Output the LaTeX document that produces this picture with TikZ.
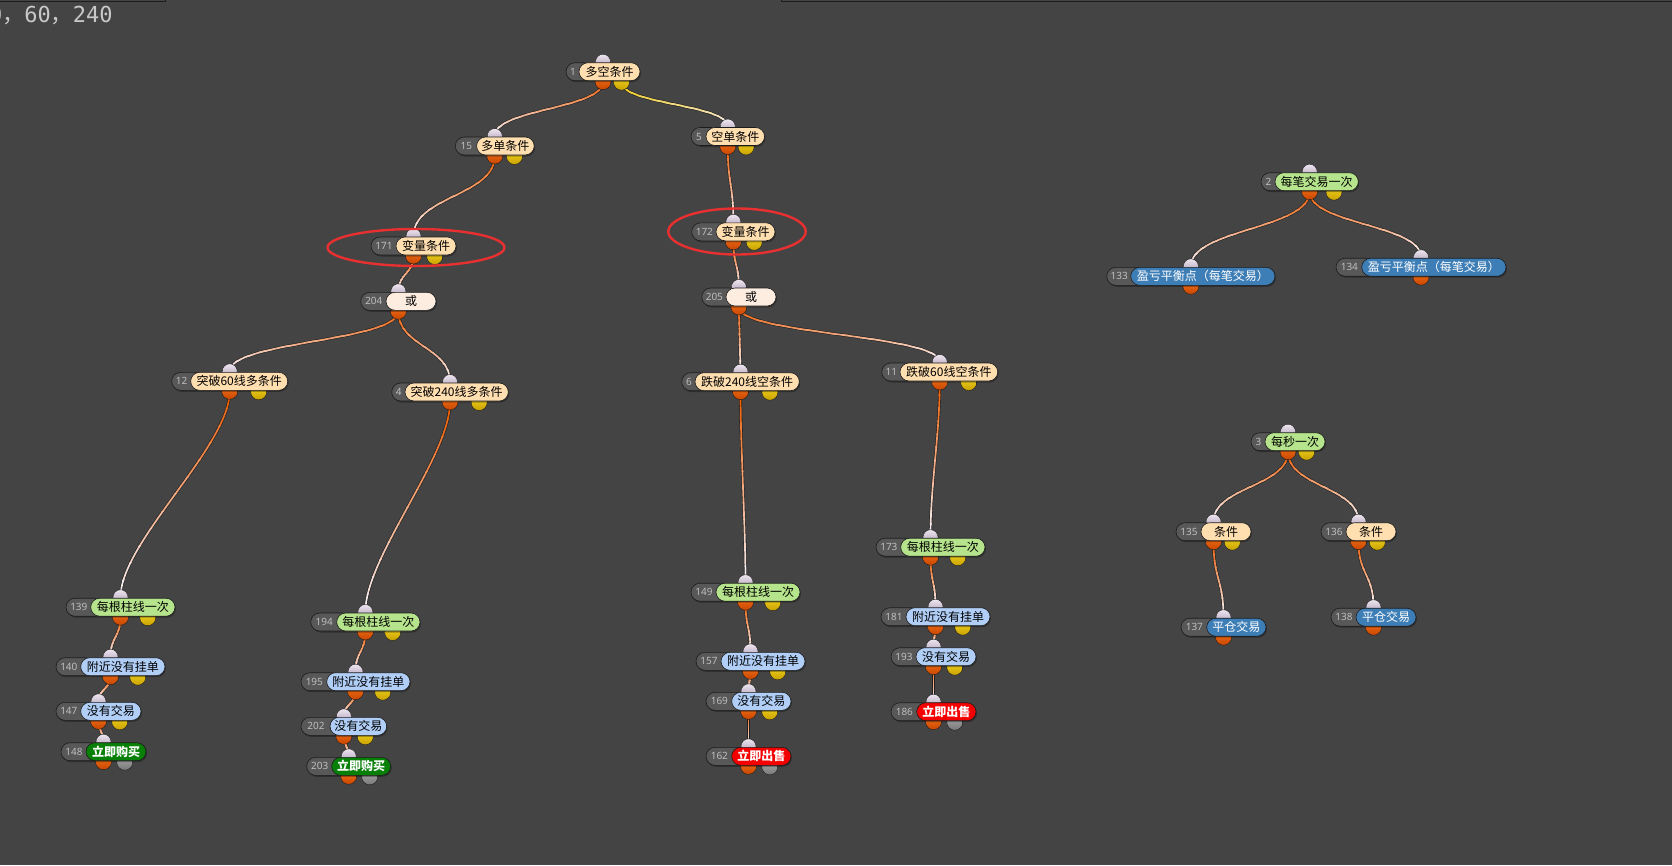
\documentclass[tikz,border=0pt]{standalone}
\usepackage{fontspec}
\newfontfamily\cjkfont{Noto Sans CJK SC}
\newfontfamily\numfont{Noto Sans}
\newfontfamily\monofont{DejaVu Sans Mono}
\pgfdeclarelayer{back}\pgfdeclarelayer{bg}
\pgfsetlayers{back,bg,main}
\definecolor{bgc}{RGB}{68,68,68}
\definecolor{cPeach}{RGB}{255,222,176}
\definecolor{cLight}{RGB}{253,236,224}
\definecolor{cGreen}{RGB}{181,228,140}
\definecolor{cBlue}{RGB}{176,206,246}
\definecolor{cDkGreen}{RGB}{8,128,8}
\definecolor{cRed}{RGB}{245,0,0}
\definecolor{cSteel}{RGB}{62,126,182}
\definecolor{cOrange}{RGB}{236,96,8}
\definecolor{cYel}{RGB}{238,200,0}
\definecolor{cEnd}{RGB}{246,236,238}
\definecolor{idfill}{RGB}{88,88,88}
\definecolor{idtxt}{RGB}{190,190,190}
\definecolor{edgec}{RGB}{28,28,28}
\definecolor{ringred}{RGB}{232,48,48}
\tikzset{
  pill/.style={draw=edgec, line width=.6pt, rounded corners=9pt, minimum height=18pt, inner sep=0pt, font=\cjkfont\fontsize{12}{12}\selectfont},
  peach/.style={pill, fill=cPeach, text=black},
  light/.style={pill, fill=cLight, text=black},
  greenn/.style={pill, fill=cGreen, text=black},
  bluen/.style={pill, fill=cBlue, text=black},
  buy/.style={pill, fill=cDkGreen, text=white, font=\cjkfont\bfseries\fontsize{12}{12}\selectfont},
  sell/.style={pill, fill=cRed, text=white, font=\cjkfont\bfseries\fontsize{12}{12}\selectfont},
  steel/.style={pill, fill=cSteel, text=white},
  idpill/.style={fill=idfill, draw=edgec, line width=.6pt, rounded corners=9pt},
  idtext/.style={inner sep=0pt, text=idtxt, font=\numfont\fontsize{10}{10}\selectfont},
  inport/.style={draw=edgec, line width=.4pt, top color={rgb,255:red,238;green,230;blue,240}, bottom color={rgb,255:red,170;green,152;blue,178}},
  outport/.style={draw=edgec, line width=.4pt, top color={rgb,255:red,250;green,120;blue,30}, bottom color={rgb,255:red,200;green,70;blue,0}},
  yport/.style={draw=edgec, line width=.4pt, top color={rgb,255:red,250;green,222;blue,40}, bottom color={rgb,255:red,200;green,160;blue,0}},
  gport/.style={draw=edgec, line width=.4pt, top color={rgb,255:red,175;green,175;blue,175}, bottom color={rgb,255:red,120;green,120;blue,120}},
  connshadow/.style={line width=2.9pt, color=bgc!45!black},
  ring/.style={draw=ringred, line width=2.4pt},
}
% node: name, grayL, colL, colR, cy, number, text, style, ports(y/g/n)
\newcommand\nd[9]{%
  \pgfmathsetmacro\cx{(#2+#4)/2}%
  \pgfmathsetmacro\qw{(#4-#2)/4}%
  \pgfmathsetmacro\lx{(#3+#4)/2}%
  \pgfmathsetmacro\lw{#4-#3}%
  \pgfmathsetmacro\nx{(#2+#3)/2+0.5}%
  \pgfmathsetmacro\gr{#3+14}%
  \coordinate (#1-in) at (\cx,#5-10);
  \coordinate (#1-out) at (\cx,#5+10);
  \coordinate (#1-out2) at (\cx+\qw,#5+10.5);
  \shadedraw[inport] (#1-in) circle (7.5pt);
  \shadedraw[outport] (#1-out) circle (8pt);
  \ifx y#9\shadedraw[yport] (#1-out2) circle (8pt);\fi
  \ifx g#9\shadedraw[gport] (#1-out2) circle (8pt);\fi
  \fill[black, opacity=.3, rounded corners=9pt] (#2+1,#5-7.5) rectangle (#4+1,#5+10.5);
  \draw[idpill] (#2,#5-9) rectangle (\gr,#5+9);
  \node[idtext] (#1-id) at (\nx,#5) {#6};
  \node[#8, minimum width=\lw pt] (#1) at (\lx,#5) {#7};
}
\newdimen\cay \newdimen\cby
\newcommand\conn[3]{%
  \pgfextracty{\cay}{\pgfpointanchor{#1}{center}}%
  \pgfextracty{\cby}{\pgfpointanchor{#2}{center}}%
  \pgfmathsetmacro\cc{min(abs(\cby-\cay)*0.5,55)}%
  \draw[connshadow] (#1) .. controls +(0,\cc) and +(0,-\cc) .. (#2);
  \foreach \i in {0,...,11}{%
    \pgfmathsetmacro\ya{\cay+(\cby-\cay)*\i/12+0.4}%
    \pgfmathsetmacro\yb{\cay+(\cby-\cay)*(\i+1)/12-0.4}%
    \pgfmathsetmacro\pc{100-\i*100/11}%
    \begin{scope}
      \clip (-50pt,\ya pt) rectangle (1800pt,\yb pt);
      \draw[line width=1.7pt, color=#3!\pc!cEnd] (#1) .. controls +(0,\cc) and +(0,-\cc) .. (#2);
    \end{scope}
  }%
}
\begin{document}
\begin{tikzpicture}[x=1pt,y=-1pt]
\begin{pgfonlayer}{back}
\fill[bgc] (0,0) rectangle (1672,865);
\end{pgfonlayer}
\useasboundingbox (0,0) rectangle (1672,865);
% panel edges and cut-off text
\draw[edgec, line width=1.3pt] (-5,1.8) -- (165.5,1.8) -- (165.5,-5);
\draw[edgec, line width=1.3pt] (781.6,-5) -- (781.6,1.8) -- (1680,1.8);
\node[anchor=base west, inner sep=0pt, text={rgb,255:red,200;green,200;blue,200}, font=\monofont\fontsize{22}{22}\selectfont] (coords) at (-11,22.7) {0{\cjkfont ，}60{\cjkfont ，}240};
% nodes
\nd{n1}{566}{579}{640}{71.7}{1}{多空条件}{peach}{y}
\nd{n15}{455.3}{476.6}{534.2}{146}{15}{多单条件}{peach}{y}
\nd{n5}{691}{706}{764.5}{136.5}{5}{空单条件}{peach}{y}
\nd{n171}{371}{396}{456}{246}{171}{变量条件}{peach}{y}
\nd{n172}{691.7}{716}{775}{231.8}{172}{变量条件}{peach}{y}
\nd{n204}{360.7}{386}{436}{301.3}{204}{或}{light}{n}
\nd{n205}{701.7}{726}{776}{297}{205}{或}{light}{n}
\nd{n12}{171.7}{190.7}{287.7}{381.3}{12}{突破60线多条件}{peach}{y}
\nd{n4}{391.7}{405}{508.3}{392}{4}{突破240线多条件}{peach}{y}
\nd{n6}{681.7}{695}{799.3}{381.7}{6}{跌破240线空条件}{peach}{y}
\nd{n11}{881.7}{900}{997.7}{372}{11}{跌破60线空条件}{peach}{y}
\nd{n139}{66}{90.7}{175}{607.2}{139}{每根柱线一次}{greenn}{y}
\nd{n140}{56}{80.7}{165}{666.7}{140}{附近没有挂单}{bluen}{y}
\nd{n147}{56}{80.7}{141}{711.3}{147}{没有交易}{bluen}{y}
\nd{n148}{61}{86}{146}{751.7}{148}{立即购买}{buy}{g}
\nd{n194}{310.7}{336.7}{420}{622}{194}{每根柱线一次}{greenn}{y}
\nd{n195}{301}{326.7}{410}{681.7}{195}{附近没有挂单}{bluen}{y}
\nd{n202}{301}{330}{386.7}{726.3}{202}{没有交易}{bluen}{y}
\nd{n203}{306.7}{331.7}{390.7}{766.3}{203}{立即购买}{buy}{g}
\nd{n149}{691}{716}{800}{592.2}{149}{每根柱线一次}{greenn}{y}
\nd{n157}{696}{721}{805}{661.3}{157}{附近没有挂单}{bluen}{y}
\nd{n169}{706}{731.7}{791}{701.3}{169}{没有交易}{bluen}{y}
\nd{n162}{706}{731.7}{791}{756.3}{162}{立即出售}{sell}{g}
\nd{n173}{876}{900.7}{985}{547.2}{173}{每根柱线一次}{greenn}{y}
\nd{n181}{881}{906}{990}{616.7}{181}{附近没有挂单}{bluen}{y}
\nd{n193}{891}{916}{976}{656.7}{193}{没有交易}{bluen}{y}
\nd{n186}{891}{916.7}{976}{711.7}{186}{立即出售}{sell}{g}
\nd{n2}{1261}{1275}{1358.3}{181.7}{2}{每笔交易一次}{greenn}{y}
\nd{n133}{1106.7}{1130.7}{1275}{276.3}{133}{盈亏平衡点（每笔交易）}{steel}{n}
\nd{n134}{1336}{1361.7}{1506}{267.2}{134}{盈亏平衡点（每笔交易）}{steel}{n}
\nd{n3}{1251}{1265}{1325}{441.7}{3}{每秒一次}{greenn}{y}
\nd{n135}{1176}{1201}{1251}{531.7}{135}{条件}{peach}{y}
\nd{n136}{1321}{1346}{1396}{531.7}{136}{条件}{peach}{y}
\nd{n137}{1181}{1206.7}{1266}{627.2}{137}{平仓交易}{steel}{n}
\nd{n138}{1331}{1356}{1416}{617.2}{138}{平仓交易}{steel}{n}
% red rings
\draw[ring] (416,247.5) ellipse [x radius=88.5, y radius=18.5];
\draw[ring] (737,231.5) ellipse [x radius=68.7, y radius=23];
% connectors
\begin{pgfonlayer}{bg}
\conn{n1-out}{n15-in}{cOrange}
\conn{n1-out2}{n5-in}{cYel}
\conn{n15-out}{n171-in}{cOrange}
\conn{n5-out}{n172-in}{cOrange}
\conn{n171-out}{n204-in}{cOrange}
\conn{n172-out}{n205-in}{cOrange}
\conn{n204-out}{n12-in}{cOrange}
\conn{n204-out}{n4-in}{cOrange}
\conn{n205-out}{n6-in}{cOrange}
\conn{n205-out}{n11-in}{cOrange}
\conn{n12-out}{n139-in}{cOrange}
\conn{n4-out}{n194-in}{cOrange}
\conn{n6-out}{n149-in}{cOrange}
\conn{n11-out}{n173-in}{cOrange}
\conn{n139-out}{n140-in}{cOrange}
\conn{n140-out}{n147-in}{cOrange}
\conn{n147-out}{n148-in}{cOrange}
\conn{n194-out}{n195-in}{cOrange}
\conn{n195-out}{n202-in}{cOrange}
\conn{n202-out}{n203-in}{cOrange}
\conn{n149-out}{n157-in}{cOrange}
\conn{n157-out}{n169-in}{cOrange}
\conn{n169-out}{n162-in}{cOrange}
\conn{n173-out}{n181-in}{cOrange}
\conn{n181-out}{n193-in}{cOrange}
\conn{n193-out}{n186-in}{cOrange}
\conn{n2-out}{n133-in}{cOrange}
\conn{n2-out}{n134-in}{cOrange}
\conn{n3-out}{n135-in}{cOrange}
\conn{n3-out}{n136-in}{cOrange}
\conn{n135-out}{n137-in}{cOrange}
\conn{n136-out}{n138-in}{cOrange}
\end{pgfonlayer}
\end{tikzpicture}
\end{document}
